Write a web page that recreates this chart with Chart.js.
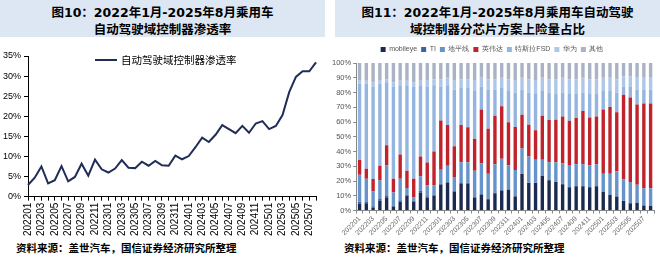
<!DOCTYPE html>
<html>
<head>
<meta charset="utf-8">
<script src="https://cdn.jsdelivr.net/npm/chart.js@4.4.1/dist/chart.umd.min.js"></script>
<style>
body{margin:0;width:660px;height:258px;background:#fff;position:relative;overflow:hidden;font-family:"Liberation Sans","Noto Sans CJK SC",sans-serif}
.ttl{position:absolute;top:0;height:37px;background:#dde7f3;text-align:center;font-weight:bold;font-size:12.5px;line-height:17px;padding-top:4px;box-sizing:border-box;color:#000;font-family:"DejaVu Sans","Noto Sans CJK SC",sans-serif;white-space:nowrap}
.src{position:absolute;top:240px;font-size:10.5px;font-weight:bold;font-family:"Noto Sans CJK SC",sans-serif;color:#000;white-space:nowrap}
#lg1{position:absolute;left:95px;top:52px;font-size:10.5px;font-family:"Noto Sans CJK SC",sans-serif;color:#000;white-space:nowrap}
#lg1 span.ln{display:inline-block;width:22px;height:2px;background:#1f2d57;vertical-align:middle;margin-right:4px;position:relative;top:-1px}
canvas{position:absolute}
</style>
</head>
<body>
<div class="ttl" style="left:0;width:325px">图10：2022年1月-2025年8月乘用车<br>自动驾驶域控制器渗透率</div>
<div class="ttl" style="left:335px;width:325px">图11：2022年1月-2025年8月乘用车自动驾驶<br>域控制器分芯片方案上险量占比</div>
<canvas id="c1" width="330" height="198" style="left:0;top:40px"></canvas>
<canvas id="c2" width="330" height="198" style="left:330px;top:40px"></canvas>
<div id="lg1"><span class="ln"></span>自动驾驶域控制器渗透率</div>
<div class="src" style="left:16px">资料来源：盖世汽车，国信证券经济研究所整理</div>
<div class="src" style="left:344px">资料来源：盖世汽车，国信证券经济研究所整理</div>
<script>
// months 2022-01 .. 2025-08
var months = ['202201','202202','202203','202204','202205','202206','202207','202208','202209','202210','202211','202212',
  '202301','202302','202303','202304','202305','202306','202307','202308','202309','202310','202311','202312',
  '202401','202402','202403','202404','202405','202406','202407','202408','202409','202410','202411','202412',
  '202501','202502','202503','202504','202505','202506','202507','202508'];

// fig 10: penetration (%)
var penetration = [2.9,4.7,7.5,3.3,4.1,7.6,3.8,4.9,8.2,5.2,9.2,6.8,
  6.0,7.0,9.1,7.2,7.1,8.7,7.7,8.9,7.8,7.7,10.2,9.3,
  10.1,12.3,14.7,13.6,15.4,17.8,16.8,15.8,17.6,15.9,18.2,18.8,
  16.8,17.6,20.3,26.0,29.8,31.2,31.2,33.4];

// fig 11: share by chip (%)
var mobileye = [4.8,5.0,2.1,6.8,8.5,2.8,6.0,10.0,6.0,12.3,8.8,10.0,
  17.5,19.0,12.8,18.0,18.4,8.8,10.7,7.7,11.8,13.5,14.0,9.5,
  24.7,18.6,18.6,23.5,20.5,19.3,17.9,15.8,16.5,16.5,15.8,16.5,
  12.8,10.5,9.5,6.5,4.9,5.3,3.5,3.0];
var ti = [1.2,1.0,0.8,1.1,1.3,0.7,1.0,0.9,0.6,1.1,0.9,0.8,
  0.6,0.5,0.5,0.6,0.5,0.4,0.5,0.4,0.4,0.5,0.4,0.3,
  0.3,0.3,0.2,0.3,0.2,0.2,0.3,0.2,0.2,0.2,0.2,0.2,
  0.1,0.1,0.1,0.1,0.1,0.1,0.1,0.1];
var horizon = [18.2,15.6,10.0,12.4,20.7,8.8,14.6,4.4,2.2,9.8,7.2,6.1,
  9.5,10.8,9.5,14.2,13.9,17.8,20.8,16.9,19.2,21.1,16.1,17.6,
  17.0,17.8,15.6,10.6,12.1,13.3,13.8,14.9,14.7,14.7,14.5,14.7,
  12.1,14.4,17.1,14.6,14.3,12.0,11.5,12.0];
var nvidia = [10.0,6.8,8.5,10.0,13.8,9.3,16.3,11.7,12.8,13.5,15.7,23.1,
  33.4,27.7,20.7,25.2,23.7,21.5,36.5,30.5,32.8,35.6,29.3,29.3,
  23.0,21.4,20.0,29.8,28.6,28.8,31.7,30.0,31.4,36.0,32.5,32.3,
  43.4,45.2,40.0,57.2,57.4,54.5,57.5,57.5];
var teslaFsd = [51.8,57.6,62.6,55.7,42.7,62.4,47.1,58.0,62.4,48.3,51.4,45.0,
  23.0,27.0,38.5,25.0,26.5,32.5,15.5,26.5,17.8,12.3,21.2,23.3,
  17.0,21.9,24.6,16.8,18.6,17.4,16.3,18.1,16.2,12.6,16.0,15.3,
  12.6,10.8,13.3,5.6,7.3,10.1,9.4,9.4];
var huawei = [2,2,3,2,2,3,3,3,3,3,4,4,
  5,5,6,6,6,7,6,7,7,7,8,8,
  8,9,9,9,9,10,10,10,10,10,10,10,
  9,9,9,7,7,8,8,8];
var others = [12,12,13,12,11,13,12,12,13,12,12,11,
  11,10,12,11,11,12,10,11,11,10,11,12,
  10,11,12,10,11,11,10,11,11,10,11,11,
  10,10,11,9,9,10,10,10];

var yTicks1 = [0,5,10,15,20,25,30,35];

function everyOther(value, index) {
  return index % 2 === 0 ? this.getLabelForValue(value) : '';
}

new Chart(document.getElementById('c1').getContext('2d'), {
  type: 'line',
  data: {
    labels: months,
    datasets: [{
      label: '自动驾驶域控制器渗透率',
      data: penetration,
      borderColor: '#1f2d57',
      borderWidth: 2,
      pointRadius: 0,
      tension: 0
    }]
  },
  options: {
    responsive: false,
    animation: false,
    devicePixelRatio: 1,
    layout: {padding: {top: 16, right: 5, left: 0, bottom: 0}},
    plugins: {legend: {display: false}, tooltip: {enabled: false}},
    scales: {
      x: {
        offset: false,
        border: {color: '#000', width: 1},
        grid: {drawOnChartArea: false, color: '#000', tickLength: 4},
        ticks: {autoSkip: false, minRotation: 90, maxRotation: 90, padding: 2, color: '#000',
          font: {family: 'Liberation Sans', size: 10}, callback: everyOther}
      },
      y: {
        min: 0, max: 35,
        afterBuildTicks: function(axis) { axis.ticks = yTicks1.map(function(v){ return {value: v}; }); },
        border: {color: '#000', width: 1},
        grid: {drawOnChartArea: false, color: '#000', tickLength: 4},
        ticks: {padding: 3, color: '#000', font: {family: 'Liberation Sans', size: 9},
          callback: function(v){ return v + '%'; }}
      }
    }
  }
});

new Chart(document.getElementById('c2').getContext('2d'), {
  type: 'bar',
  data: {
    labels: months,
    datasets: [
      {label: 'mobileye', data: mobileye, backgroundColor: '#1c2a4f'},
      {label: 'TI', data: ti, backgroundColor: '#3a64a0'},
      {label: '地平线', data: horizon, backgroundColor: '#6593cc'},
      {label: '英伟达', data: nvidia, backgroundColor: '#c0232b'},
      {label: '特斯拉FSD', data: teslaFsd, backgroundColor: '#94b5e0'},
      {label: '华为', data: huawei, backgroundColor: '#aec6e8'},
      {label: '其他', data: others, backgroundColor: '#a9b3c4'}
    ]
  },
  options: {
    responsive: false,
    animation: false,
    devicePixelRatio: 1,
    layout: {padding: {top: 2, right: 6, left: 0, bottom: 0}},
    datasets: {bar: {categoryPercentage: 1, barPercentage: 0.5}},
    plugins: {
      tooltip: {enabled: false},
      legend: {
        position: 'top',
        labels: {boxWidth: 5, boxHeight: 5, padding: 4, color: '#555',
          font: {family: 'Liberation Sans', size: 7}}
      }
    },
    scales: {
      x: {
        stacked: true,
        border: {color: '#888', width: 1},
        grid: {drawOnChartArea: false, color: '#888', tickLength: 3},
        ticks: {autoSkip: false, minRotation: 45, maxRotation: 45, padding: 1, color: '#666',
          font: {family: 'Liberation Sans', size: 7}, callback: everyOther}
      },
      y: {
        stacked: true,
        min: 0, max: 100,
        border: {color: '#888', width: 1},
        grid: {drawOnChartArea: false, color: '#888', tickLength: 3},
        ticks: {stepSize: 10, padding: 2, color: '#555', font: {family: 'Liberation Sans', size: 7.5},
          callback: function(v){ return v + '%'; }}
      }
    }
  }
});
</script>
</body>
</html>
